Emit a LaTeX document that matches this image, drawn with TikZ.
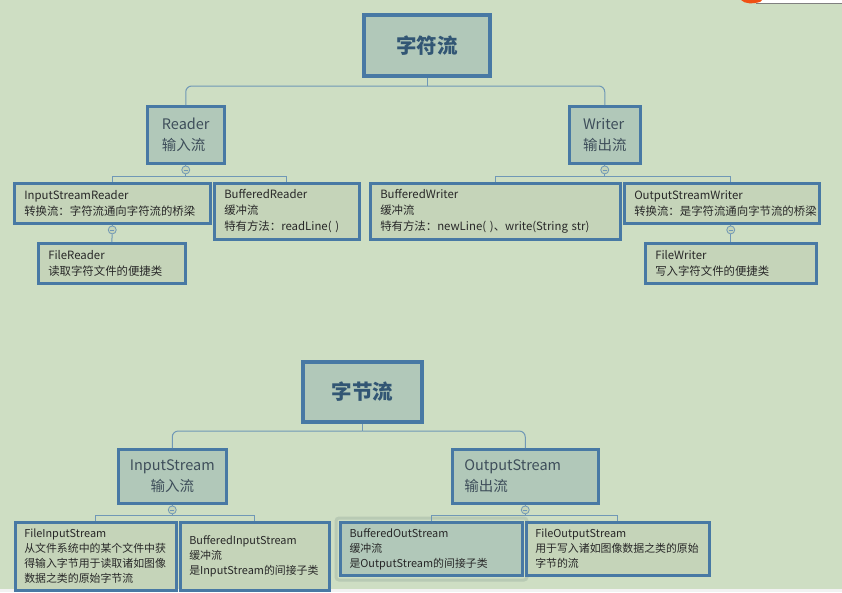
\documentclass[tikz,border=0pt]{standalone}
\usepackage{fontspec}
\setmainfont{Noto Sans CJK SC}
\usepackage{tikz}
\usetikzlibrary{positioning}
\definecolor{bgcolor}{RGB}{206,222,195}
\definecolor{boxcolor}{RGB}{72,121,164}
\definecolor{headfill}{RGB}{177,200,185}
\definecolor{leaffill}{RGB}{197,212,185}
\definecolor{linkcolor}{RGB}{112,152,182}
\definecolor{headtext}{RGB}{50,86,116}
\definecolor{midtext}{RGB}{62,78,90}
\definecolor{leaftext}{RGB}{40,40,40}
\definecolor{glowcolor}{RGB}{184,202,180}
\definecolor{marktext}{RGB}{240,80,20}

\begin{document}
\begin{tikzpicture}[x=1pt,y=-1pt,
    headbox/.style={draw=boxcolor, line width=4pt, fill=headfill, anchor=north west,
        text=headtext, font=\bfseries\fontsize{20.5pt}{24pt}\selectfont},
    midbox/.style={draw=boxcolor, line width=2.5pt, fill=headfill, anchor=north west,
        text=midtext, align=left, font=\fontsize{14.5pt}{21pt}\selectfont},
    leafbox/.style={draw=boxcolor, line width=2.5pt, fill=leaffill, anchor=north west,
        text=leaftext, align=left, inner xsep=10pt, font=\fontsize{11.4pt}{16pt}\selectfont},
    lowleaf/.style={leafbox, inner xsep=9pt, font=\fontsize{10.9pt}{15pt}\selectfont},
    link/.style={draw=linkcolor, line width=1pt},
    fold/.style={circle, draw=linkcolor, line width=0.8pt, fill=leaffill, inner sep=0pt,
        minimum size=8pt,
        path picture={\draw[linkcolor, line width=0.8pt]
            ([xshift=-2pt]path picture bounding box.center) --
            ([xshift=2pt]path picture bounding box.center);}}]

    % Page
    \useasboundingbox (0,0) rectangle (842,592);
    \fill[bgcolor] (0,0) rectangle (842,592);
    \fill[white!90!gray] (0,589) rectangle (842,592);
    \fill[white] (756,0) rectangle (842,3);
    \draw[gray, line width=0.8pt] (756,3.4) -- (842,3.4);
    \fill[marktext] (741,0) -- (762,0) -- (760,2) .. controls (752,4) and (745,4) .. (741,0) -- cycle;

    % Character streams
    \node[headbox, minimum width=126, minimum height=61] (zifu) at (362,13) {字符流};
    \node[midbox, minimum width=77, minimum height=57] (reader) at (146,105) {Reader\\输入流};
    \node[midbox, minimum width=71, minimum height=57] (writer) at (568,105) {Writer\\输出流};

    \node[leafbox, text width=176, minimum height=40] (isr) at (13,182)
        {InputStreamReader\\转换流：字符流通向字符流的桥梁};
    \node[leafbox, text width=125, minimum height=56] (br) at (213,182)
        {BufferedReader\\缓冲流\\特有方法：readLine( )};
    \node[leafbox, text width=127, minimum height=40] (fr) at (37,242)
        {FileReader\\读取字符文件的便捷类};
    \node[leafbox, text width=230, minimum height=56] (bw) at (369,182)
        {BufferedWriter\\缓冲流\\特有方法：newLine( )、write(String str)};
    \node[leafbox, text width=175, minimum height=40] (osw) at (623,182)
        {OutputStreamWriter\\转换流：是字符流通向字节流的桥梁};
    \node[leafbox, text width=151, minimum height=40] (fw) at (644,242)
        {FileWriter\\写入字符文件的便捷类};

    % Fold marks
    \node[fold, below=1pt of reader] (readerfold) {};
    \node[fold, below=1pt of writer] (writerfold) {};
    \node[fold, below=1pt of isr] (isrfold) {};
    \node[fold, below=1pt of osw.south, xshift=9pt] (oswfold) {};

    % Links
    \draw[link] (zifu.south) -- ++(0,8) coordinate (zifubus);
    \draw[link, rounded corners=6pt] (zifubus) -| (reader.north);
    \draw[link, rounded corners=6pt] (zifubus) -| (writer.north);
    \draw[link] (reader.south) -- (readerfold.north);
    \draw[link] (readerfold.south) -- ++(0,2) coordinate (readerbus);
    \draw[link] (readerbus) -| (isr.north);
    \draw[link] (readerbus) -| (br.north);
    \draw[link] (writer.south) -- (writerfold.north);
    \draw[link] (writerfold.south) -- ++(0,2) coordinate (writerbus);
    \draw[link] (writerbus) -| (bw.north);
    \draw[link] (writerbus) -| (oswfold |- osw.north);
    \draw[link] (isr.south) -- (isrfold.north);
    \draw[link] (isrfold.south) -- (fr.north);
    \draw[link] (oswfold |- osw.south) -- (oswfold.north);
    \draw[link] (oswfold.south) -- (oswfold |- fw.north);

    % Byte streams
    \node[headbox, minimum width=119, minimum height=60] (zijie) at (301,360) {字节流};
    \node[midbox, align=center, minimum width=108, minimum height=54] (instream) at (117,448)
        {InputStream\\输入流};
    \node[midbox, inner xsep=12pt, text width=122, minimum height=54] (outstream) at (451,448)
        {OutputStream\\输出流};

    \node[lowleaf, text width=143, minimum height=68] (fis) at (14,521)
        {FileInputStream\\从文件系统中的某个文件中获\\得输入字节用于读取诸如图像\\数据之类的原始字节流};
    \node[lowleaf, text width=131, minimum height=68] (bis) at (179,521)
        {BufferedInputStream\\缓冲流\\是InputStream的间接子类};
    \node[lowleaf, fill=headfill, line width=3pt, text width=164, minimum height=53] (bos) at (339,521)
        {BufferedOutStream\\缓冲流\\是OutputStream的间接子类};
    \draw[glowcolor, line width=3pt, rounded corners=3pt]
        ([shift={(-3pt,3pt)}]bos.north west) rectangle ([shift={(3pt,-3pt)}]bos.south east);
    \node[lowleaf, text width=165, minimum height=53] (fos) at (525,521)
        {FileOutputStream\\用于写入诸如图像数据之类的原始\\字节的流};

    % Fold marks
    \node[fold, below=1pt of instream] (instreamfold) {};
    \node[fold, below=1pt of outstream] (outstreamfold) {};

    % Links
    \draw[link] (zijie.south) -- ++(0,7) coordinate (zijiebus);
    \draw[link, rounded corners=6pt] (zijiebus) -| (instream.north);
    \draw[link, rounded corners=6pt] (zijiebus) -| (outstream.north);
    \draw[link] (instream.south) -- (instreamfold.north);
    \draw[link] (instreamfold.south) -- ++(0,1) coordinate (instreambus);
    \draw[link] (instreambus) -| (fis.north);
    \draw[link] (instreambus) -| (bis.north);
    \draw[link] (outstream.south) -- (outstreamfold.north);
    \draw[link] (outstreamfold.south) -- ++(0,1) coordinate (outstreambus);
    \draw[link] (outstreambus) -| (bos.north);
    \draw[link] (outstreambus) -| (fos.north);

\end{tikzpicture}
\end{document}
